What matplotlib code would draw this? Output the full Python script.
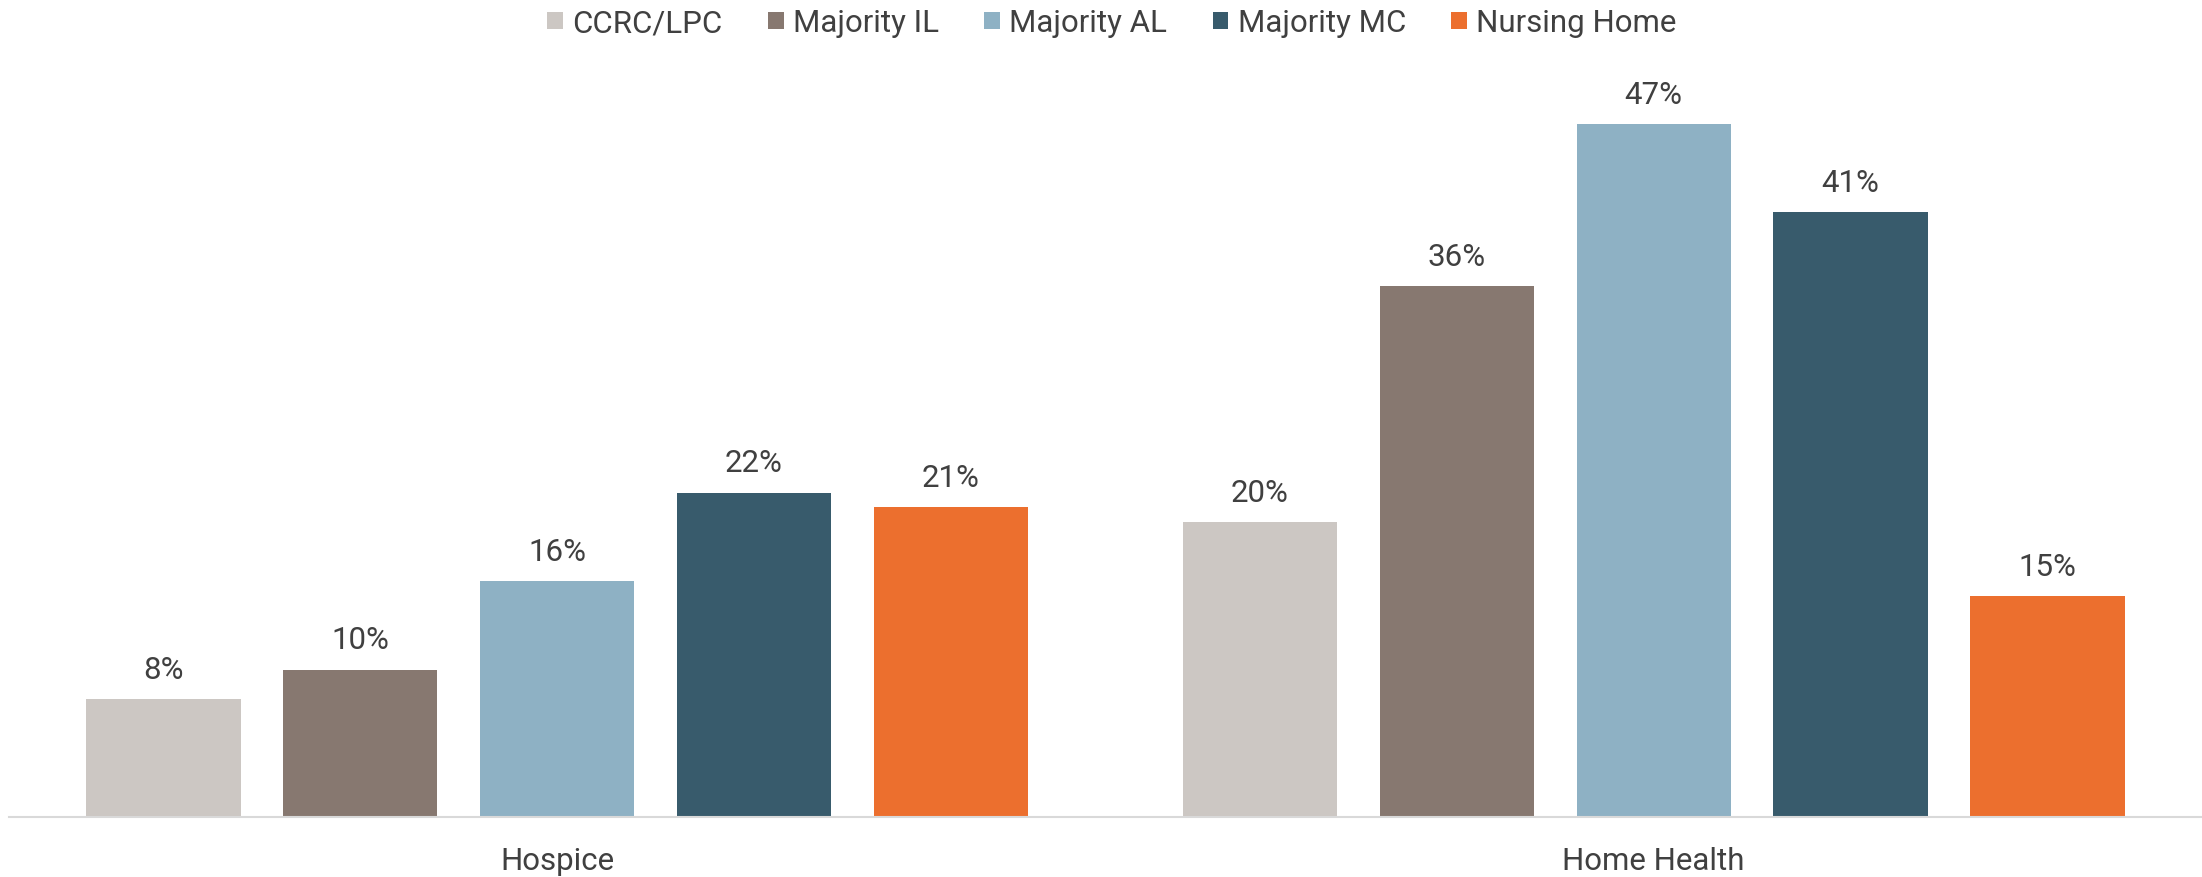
import matplotlib as mpl
mpl.use('Agg')
import matplotlib.pyplot as plt
import numpy as np

# data
categories = ['Hospice', 'Home Health']
series = ['CCRC/LPC', 'Majority IL', 'Majority AL', 'Majority MC', 'Nursing Home']
values = {
    'CCRC/LPC':     [8, 20],
    'Majority IL':  [10, 36],
    'Majority AL':  [16, 47],
    'Majority MC':  [22, 41],
    'Nursing Home': [21, 15],
}
colors = ['#CCC7C3', '#877870', '#8EB1C4', '#385B6C', '#EC6F2E']

plt.rcParams['font.family'] = ['Roboto', 'DejaVu Sans']
text_color = '#404040'
fs = 22.5

fig = plt.figure(figsize=(22.02, 8.78), dpi=100)
ax = fig.add_axes([0.004, 60 / 878, 0.996, 0.8398])

x = np.arange(len(categories))
pitch = 0.1795
width = 0.1407
for i, name in enumerate(series):
    pos = x + (i - 2) * pitch
    bars = ax.bar(pos, values[name], width, color=colors[i], label=name)
    for b, v in zip(bars, values[name]):
        ax.annotate('{}%'.format(v), (b.get_x() + b.get_width() / 2, v),
                    xytext=(0, 11), textcoords='offset points',
                    ha='center', va='bottom', fontsize=fs, color=text_color)

ax.set_xlim(-0.5, 1.5)
ax.set_ylim(0, 50)
ax.set_xticks(x)
ax.set_xticklabels(categories, fontsize=fs, color=text_color)
ax.tick_params(axis='x', length=0, pad=21)
ax.set_yticks([])
for s in ['top', 'right', 'left']:
    ax.spines[s].set_visible(False)
ax.spines['bottom'].set_color('#D9D9D9')
ax.spines['bottom'].set_linewidth(1.5)

fig.legend(loc='center', bbox_to_anchor=(0.505, 1 - 24 / 878), ncol=5,
           frameon=False, fontsize=fs, handlelength=0.5, handleheight=0.5,
           handletextpad=0.3, columnspacing=1.45, labelcolor=text_color)

plt.savefig('out.png', dpi=100)
